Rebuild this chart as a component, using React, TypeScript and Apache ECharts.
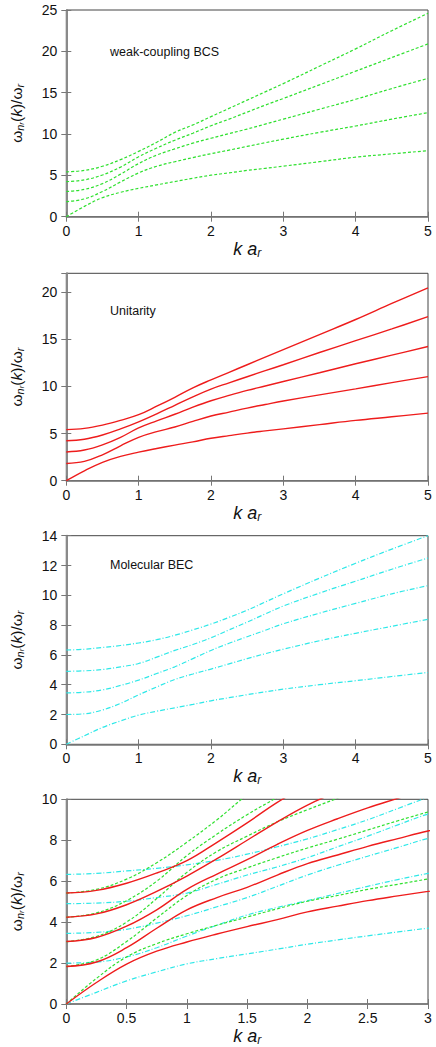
import React, { useEffect, useRef } from 'react';
import * as echarts from 'echarts';

// axial wave number k a_r
const kValues = [0, 0.25, 0.5, 0.75, 1, 1.25, 1.5, 1.75, 2, 2.25, 2.5, 2.75, 3, 3.5, 4, 4.5, 5];

// weak-coupling BCS (green)
const bcsMode1 = [0, 1.25, 2.3, 2.95, 3.43, 3.85, 4.25, 4.65, 5.02, 5.3, 5.6, 5.85, 6.11, 6.65, 7.2, 7.6, 7.98];
const bcsMode2 = [1.83, 2.15, 3.05, 4.2, 5.3, 6.1, 6.65, 7.15, 7.62, 8.05, 8.5, 8.95, 9.38, 10.2, 10.97, 11.8, 12.58];
const bcsMode3 = [3.05, 3.3, 4.0, 5.15, 6.43, 7.45, 8.2, 8.9, 9.49, 10.05, 10.6, 11.2, 11.8, 13.0, 14.2, 15.5, 16.73];
const bcsMode4 = [4.24, 4.45, 5.05, 6.0, 7.25, 8.3, 9.25, 10.1, 11.0, 11.8, 12.65, 13.5, 14.3, 15.95, 17.6, 19.25, 20.9];
const bcsMode5 = [5.42, 5.6, 6.1, 6.9, 7.9, 9.0, 10.2, 11.1, 12.1, 13.1, 14.1, 15.1, 16.1, 18.2, 20.3, 22.5, 24.6];

// unitarity (red)
const uniMode1 = [0, 1.05, 1.95, 2.58, 3.03, 3.42, 3.78, 4.12, 4.5, 4.78, 5.05, 5.28, 5.5, 5.95, 6.4, 6.78, 7.17];
const uniMode2 = [1.83, 2.05, 2.75, 3.7, 4.6, 5.2, 5.7, 6.3, 6.86, 7.28, 7.7, 8.08, 8.45, 9.1, 9.74, 10.4, 11.04];
const uniMode3 = [3.05, 3.25, 3.8, 4.6, 5.6, 6.35, 7.05, 7.8, 8.48, 9.05, 9.58, 10.05, 10.52, 11.45, 12.4, 13.32, 14.24];
const uniMode4 = [4.24, 4.4, 4.85, 5.5, 6.25, 7.1, 8.0, 8.9, 9.72, 10.38, 11.03, 11.67, 12.3, 13.6, 14.85, 16.1, 17.4];
const uniMode5 = [5.42, 5.55, 5.9, 6.4, 7.0, 7.9, 8.85, 9.85, 10.7, 11.5, 12.3, 13.1, 13.9, 15.5, 17.1, 18.8, 20.46];

// molecular BEC (cyan)
const becMode1 = [0, 0.57, 1.13, 1.57, 1.96, 2.22, 2.45, 2.68, 2.92, 3.13, 3.33, 3.52, 3.7, 4.0, 4.27, 4.55, 4.82];
const becMode2 = [2.0, 2.05, 2.3, 2.75, 3.32, 3.85, 4.35, 4.72, 5.05, 5.4, 5.75, 6.08, 6.38, 6.95, 7.45, 7.92, 8.39];
const becMode3 = [3.45, 3.5, 3.65, 3.95, 4.31, 4.75, 5.2, 5.75, 6.3, 6.78, 7.22, 7.65, 8.09, 8.8, 9.46, 10.1, 10.65];
const becMode4 = [4.9, 4.93, 5.02, 5.2, 5.42, 5.85, 6.3, 6.7, 7.15, 7.68, 8.2, 8.75, 9.28, 10.15, 10.95, 11.75, 12.5];
const becMode5 = [6.33, 6.38, 6.5, 6.63, 6.8, 7.02, 7.32, 7.68, 8.07, 8.52, 9.0, 9.55, 10.1, 11.15, 12.15, 13.1, 14.0];

const panelTitles = ['weak-coupling BCS', 'Unitarity', 'Molecular BEC'];
const yMaxes = [25, 22, 14, 10];
const yIntervals = [5, 5, 2, 2];
const xMaxes = [5, 5, 5, 3];
const xIntervals = [1, 1, 1, 0.5];

const bcs = [bcsMode1, bcsMode2, bcsMode3, bcsMode4, bcsMode5];
const uni = [uniMode1, uniMode2, uniMode3, uniMode4, uniMode5];
const bec = [becMode1, becMode2, becMode3, becMode4, becMode5];

const FONT = 'Liberation Sans, Arial, sans-serif';
const GREEN = '#2fe02f';
const RED = '#ee1c1c';
const CYAN = '#2ee8e8';

function zip(vals: number[]) {
  return kValues.map((k, i) => [k, vals[i]]);
}

export default function App() {
  const ref = useRef<HTMLDivElement>(null);
  useEffect(() => {
    if (!ref.current) return;
    const chart = echarts.init(ref.current, null, { renderer: 'svg' });
    const grids = [
      { top: 10, height: 206.7 },
      { top: 273.3, height: 207.4 },
      { top: 535.7, height: 208.6 },
      { top: 799.3, height: 209 },
    ].map((g) => ({
      left: 66.3,
      width: 361.7,
      top: g.top,
      height: g.height,
      show: true,
      borderColor: '#444',
      borderWidth: 1,
    }));

    const xName = '{i|k a}{s|r}';
    const yName = '{w|ω}{s|n}{ss|r}{w|(}{i|k}{w|)/ω}{s2|r}';

    const xAxes: any[] = [];
    const yAxes: any[] = [];
    for (let i = 0; i < 4; i++) {
      xAxes.push({
        type: 'value',
        gridIndex: i,
        min: 0,
        max: xMaxes[i],
        interval: xIntervals[i],
        position: 'bottom',
        name: xName,
        nameLocation: 'middle',
        nameGap: 22,
        nameTextStyle: {
          color: '#111',
          rich: {
            i: { fontFamily: FONT, fontStyle: 'italic', fontSize: 18, lineHeight: 20, color: '#111' },
            s: { fontFamily: FONT, fontStyle: 'italic', fontSize: 12, lineHeight: 8, verticalAlign: 'bottom', color: '#111' },
          },
        },
        axisLine: { show: true, lineStyle: { color: '#777', width: 1.5 } },
        axisTick: { inside: true, length: 5, lineStyle: { color: '#777' } },
        axisLabel: { color: '#111', fontSize: 14, fontFamily: FONT, margin: 7 },
        splitLine: { show: false },
      });
      yAxes.push({
        type: 'value',
        gridIndex: i,
        min: 0,
        max: yMaxes[i],
        interval: yIntervals[i],
        position: 'left',
        name: yName,
        nameLocation: 'middle',
        nameRotate: 90,
        nameGap: 41,
        nameTextStyle: {
          color: '#111',
          rich: {
            w: { fontFamily: FONT, fontSize: 15.5, lineHeight: 18, color: '#111' },
            i: { fontFamily: FONT, fontStyle: 'italic', fontSize: 15.5, lineHeight: 18, color: '#111' },
            s: { fontFamily: FONT, fontStyle: 'italic', fontSize: 11, lineHeight: 10, verticalAlign: 'bottom', color: '#111' },
            ss: { fontFamily: FONT, fontStyle: 'italic', fontSize: 8, lineHeight: 4, verticalAlign: 'bottom', color: '#111' },
            s2: { fontFamily: FONT, fontStyle: 'italic', fontSize: 11, lineHeight: 10, verticalAlign: 'bottom', color: '#111' },
          },
        },
        axisLine: { show: true, lineStyle: { color: '#8a8a8a', width: 2 } },
        axisTick: { inside: true, length: 5, lineStyle: { color: '#777' } },
        axisLabel: { color: '#111', fontSize: 14, fontFamily: FONT, margin: 9, showMaxLabel: i === 1 ? false : true },
        splitLine: { show: false },
      });
    }
    for (let i = 0; i < 4; i++) {
      xAxes.push({
        type: 'value', gridIndex: i, min: 0, max: xMaxes[i], interval: xIntervals[i], position: 'top',
        axisLine: { show: false }, axisLabel: { show: false }, splitLine: { show: false },
        axisTick: { inside: true, length: 5, lineStyle: { color: '#777' } },
      });
      yAxes.push({
        type: 'value', gridIndex: i, min: 0, max: yMaxes[i], interval: yIntervals[i], position: 'right',
        axisLine: { show: false }, axisLabel: { show: false }, splitLine: { show: false },
        axisTick: { inside: true, length: 5, lineStyle: { color: '#777' } },
      });
    }

    const mk = (vals: number[], idx: number, color: string, type: any, width: number) => ({
      type: 'line',
      xAxisIndex: idx,
      yAxisIndex: idx,
      data: zip(vals),
      showSymbol: false,
      symbol: 'none',
      smooth: 0.4,
      clip: true,
      silent: true,
      lineStyle: { color, type, width },
    });
    const greenType = [3, 2];
    const cyanType = [5, 2, 1, 2];

    const series: any[] = [];
    bcs.forEach((v) => series.push(mk(v, 0, GREEN, greenType, 1.2)));
    uni.forEach((v) => series.push(mk(v, 1, RED, 'solid', 1.4)));
    bec.forEach((v) => series.push(mk(v, 2, CYAN, cyanType, 1.2)));
    bec.forEach((v) => series.push(mk(v, 3, CYAN, cyanType, 1.2)));
    bcs.forEach((v) => series.push(mk(v, 3, GREEN, greenType, 1.2)));
    uni.forEach((v) => series.push(mk(v, 3, RED, 'solid', 1.4)));

    const titleTops = [45, 304, 558];
    const graphic = panelTitles.map((t, i) => ({
      type: 'text',
      left: 110,
      top: titleTops[i],
      style: { text: t, fontFamily: FONT, fontSize: 12.5, fill: '#111' },
    }));

    chart.setOption({
      animation: false,
      backgroundColor: '#fff',
      grid: grids,
      xAxis: xAxes,
      yAxis: yAxes,
      series,
      graphic,
    });
    return () => chart.dispose();
  }, []);
  return (
    <div
      ref={ref}
      style={{ position: 'absolute', left: 0, top: 0, width: 436, height: 1047 }}
    />
  );
}
